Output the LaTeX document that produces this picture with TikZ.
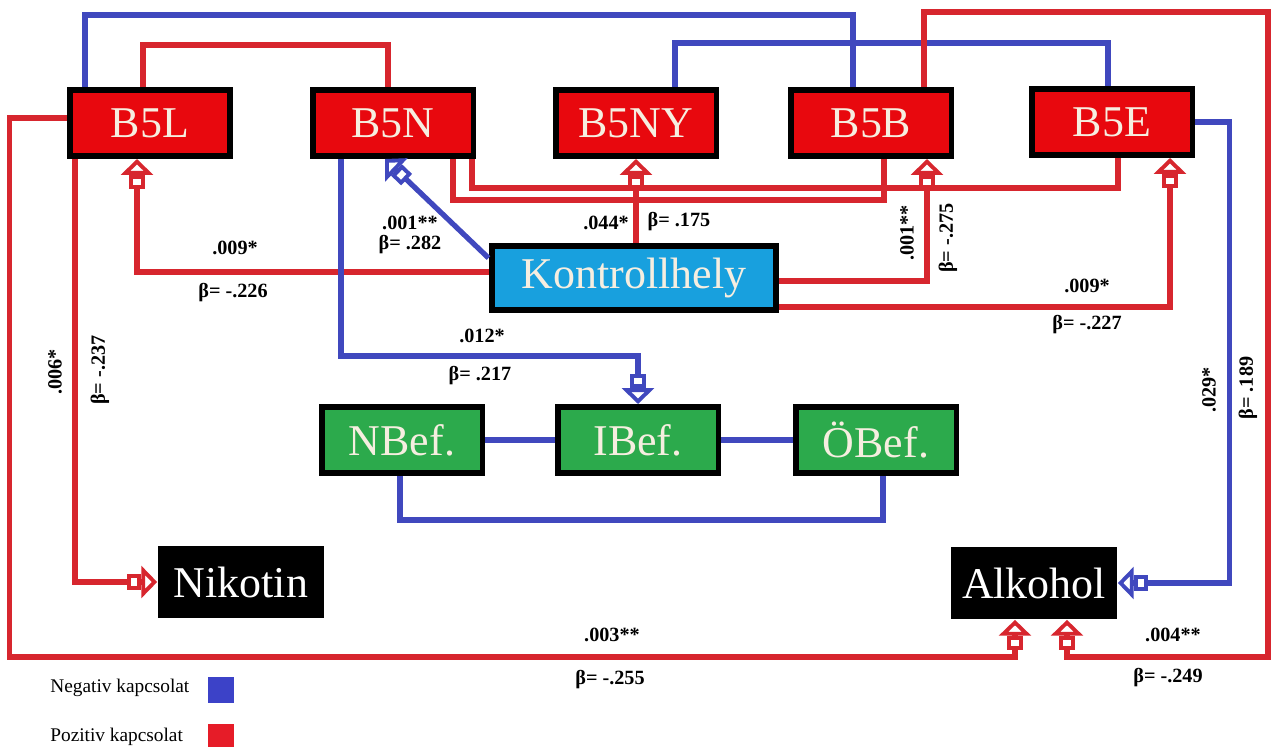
\documentclass[tikz,border=0pt]{standalone}
\usepackage{fontspec}
\setmainfont{Liberation Serif}
\usetikzlibrary{arrows.meta, calc}

\definecolor{linered}{RGB}{215,38,46}
\definecolor{lineblue}{RGB}{64,72,190}
\definecolor{boxred}{RGB}{232,8,14}
\definecolor{boxblue}{RGB}{24,160,222}
\definecolor{boxgreen}{RGB}{44,170,76}
\definecolor{cream}{RGB}{246,238,224}
\definecolor{legblue}{RGB}{60,66,200}
\definecolor{legred}{RGB}{230,28,40}

\tikzset{
  bigfive/.style={draw=black, line width=3.4pt, fill=boxred, text=cream,
    minimum width=3.22cm, minimum height=1.32cm, inner sep=0pt,
    font=\fontsize{25}{30}\selectfont},
  kontbox/.style={bigfive, fill=boxblue, minimum width=5.70cm, minimum height=1.28cm},
  befbox/.style={bigfive, fill=boxgreen},
  drugbox/.style={fill=black, text=white, minimum width=3.34cm, minimum height=1.46cm,
    inner sep=0pt, font=\fontsize{25}{30}\selectfont},
  lab/.style={font=\fontsize{11.5}{13}\selectfont\bfseries, inner sep=1pt},
  legtext/.style={font=\fontsize{11}{13}\selectfont, inner sep=0pt},
  legbox/.style={minimum size=0.52cm, inner sep=0pt}
}

\begin{document}
\begin{tikzpicture}[x=0.02cm, y=-0.02cm,
    poslink/.style={linered, line width=3pt},
    neglink/.style={lineblue, line width=3pt},
    hollowtip/.style={-{Rectangle[open, fill=white, length=8pt, width=9pt, line width=2.2pt]
        Triangle[open, fill=white, length=9pt, width=18pt, line width=2.2pt]}}]
    \useasboundingbox (0,0) rectangle (1279,747);

    % dimenziok
    \node[bigfive] (B5L) at (150,123) {B5L};
    \node[bigfive] (B5N) at (393,123) {B5N};
    \node[bigfive] (B5NY) at (636,123) {B5NY};
    \node[bigfive] (B5B) at (871,123) {B5B};
    \node[bigfive] (B5E) at (1112,122) {B5E};
    \node[kontbox] (Kont) at (634,278) {Kontrollhely};
    \node[befbox] (NBef) at (402,440) {NBef.};
    \node[befbox] (IBef) at (638,440) {IBef.};
    \node[befbox] (OBef) at (876,440) {ÖBef.};
    \node[drugbox] (Nikotin) at (241,582) {Nikotin};
    \node[drugbox] (Alkohol) at (1034,583) {Alkohol};

    % kapcsolatok a felso sorban
    \draw[neglink] ($(B5L.north)+(-65,0)$) -- ++(0,-72) -| ($(B5B.north)+(-18,0)$);
    \draw[poslink] ($(B5L.north)+(-7,0)$) -- ++(0,-42) -| ($(B5N.north)+(-5,0)$);
    \draw[neglink] ($(B5NY.north)+(39,0)$) -- ++(0,-44) -| ($(B5E.north)+(-4,0)$);
    \draw[poslink] ($(B5N.south)+(60,0)$) -- ++(0,41) -| ($(B5B.south)+(13,0)$);
    \draw[poslink] ($(B5N.south)+(79,0)$) -- ++(0,29) -| ($(B5E.south)+(6,0)$);

    % Kontrollhely hatasai
    \draw[poslink, hollowtip] ($(Kont.west)+(0,-6)$) -| ($(B5L.south)+(-13,0)$);
    \draw[neglink, hollowtip] ($(Kont.north west)+(0,15)$) -- ($(B5N.south)+(-8,0)$);
    \draw[poslink, hollowtip] (Kont.north -| B5NY.south) -- (B5NY.south);
    \draw[poslink, hollowtip] ($(Kont.east)+(0,3)$) -| ($(B5B.south)+(56,0)$);
    \draw[poslink, hollowtip] ($(Kont.east)+(0,29)$) -| ($(B5E.south)+(58,0)$);

    % befolyasolhatosag
    \draw[neglink, hollowtip] ($(B5N.south)+(-52,0)$) -- ++(0,197) -| (IBef.north);
    \draw[neglink] (NBef.east) -- (IBef.west);
    \draw[neglink] (IBef.east) -- (OBef.west);
    \draw[neglink] ($(NBef.south)+(-2,0)$) -- ++(0,44) -| ($(OBef.south)+(7,0)$);

    % szerhasznalat
    \draw[poslink, hollowtip] ($(B5L.south)+(-75,0)$) |- (Nikotin.west);
    \draw[neglink, hollowtip] (B5E.east) -- ++(34,0) |- (Alkohol.east);
    \draw[poslink, hollowtip] ($(B5L.west)+(0,-5)$) -- ++(-57,0) -- ++(0,539)
        -| ($(Alkohol.south)+(-19,0)$);
    \draw[poslink, hollowtip] ($(B5B.north)+(53,0)$) -- ++(0,-75) -- ++(344,0)
        -- ++(0,645) -| ($(Alkohol.south)+(33,0)$);

    % p es beta ertekek
    \node[lab] (sKL) at (235,248) {.009*};
    \node[lab] (bKL) at (233,293) {β= -.226};
    \node[lab] (sKN) at (410,223) {.001**};
    \node[lab] (bKN) at (410,245) {β= .282};
    \node[lab] (sKNY) at (606,223) {.044*};
    \node[lab] (bKNY) at (679,222) {β= .175};
    \node[lab, rotate=90] (sKB) at (907,233) {.001**};
    \node[lab, rotate=90] (bKB) at (948,238) {β= -.275};
    \node[lab] (sKE) at (1087,286) {.009*};
    \node[lab] (bKE) at (1087,325) {β= -.227};
    \node[lab] (sNI) at (482,336) {.012*};
    \node[lab] (bNI) at (480,376) {β= .217};
    \node[lab, rotate=90] (sLN) at (55,372) {.006*};
    \node[lab, rotate=90] (bLN) at (100,370) {β= -.237};
    \node[lab, rotate=90] (sEA) at (1209,390) {.029*};
    \node[lab, rotate=90] (bEA) at (1248,388) {β= .189};
    \node[lab] (sLA) at (612,635) {.003**};
    \node[lab] (bLA) at (610,680) {β= -.255};
    \node[lab] (sBA) at (1173,635) {.004**};
    \node[lab] (bBA) at (1168,678) {β= -.249};

    % jelmagyarazat
    \node[legtext, anchor=west] (negtxt) at (50,688) {Negativ kapcsolat};
    \node[legbox, fill=legblue] (negbox) at (221,690) {};
    \node[legtext, anchor=west] (postxt) at (50,737) {Pozitiv kapcsolat};
    \node[legbox, fill=legred] (posbox) at (221,737) {};
\end{tikzpicture}
\end{document}
